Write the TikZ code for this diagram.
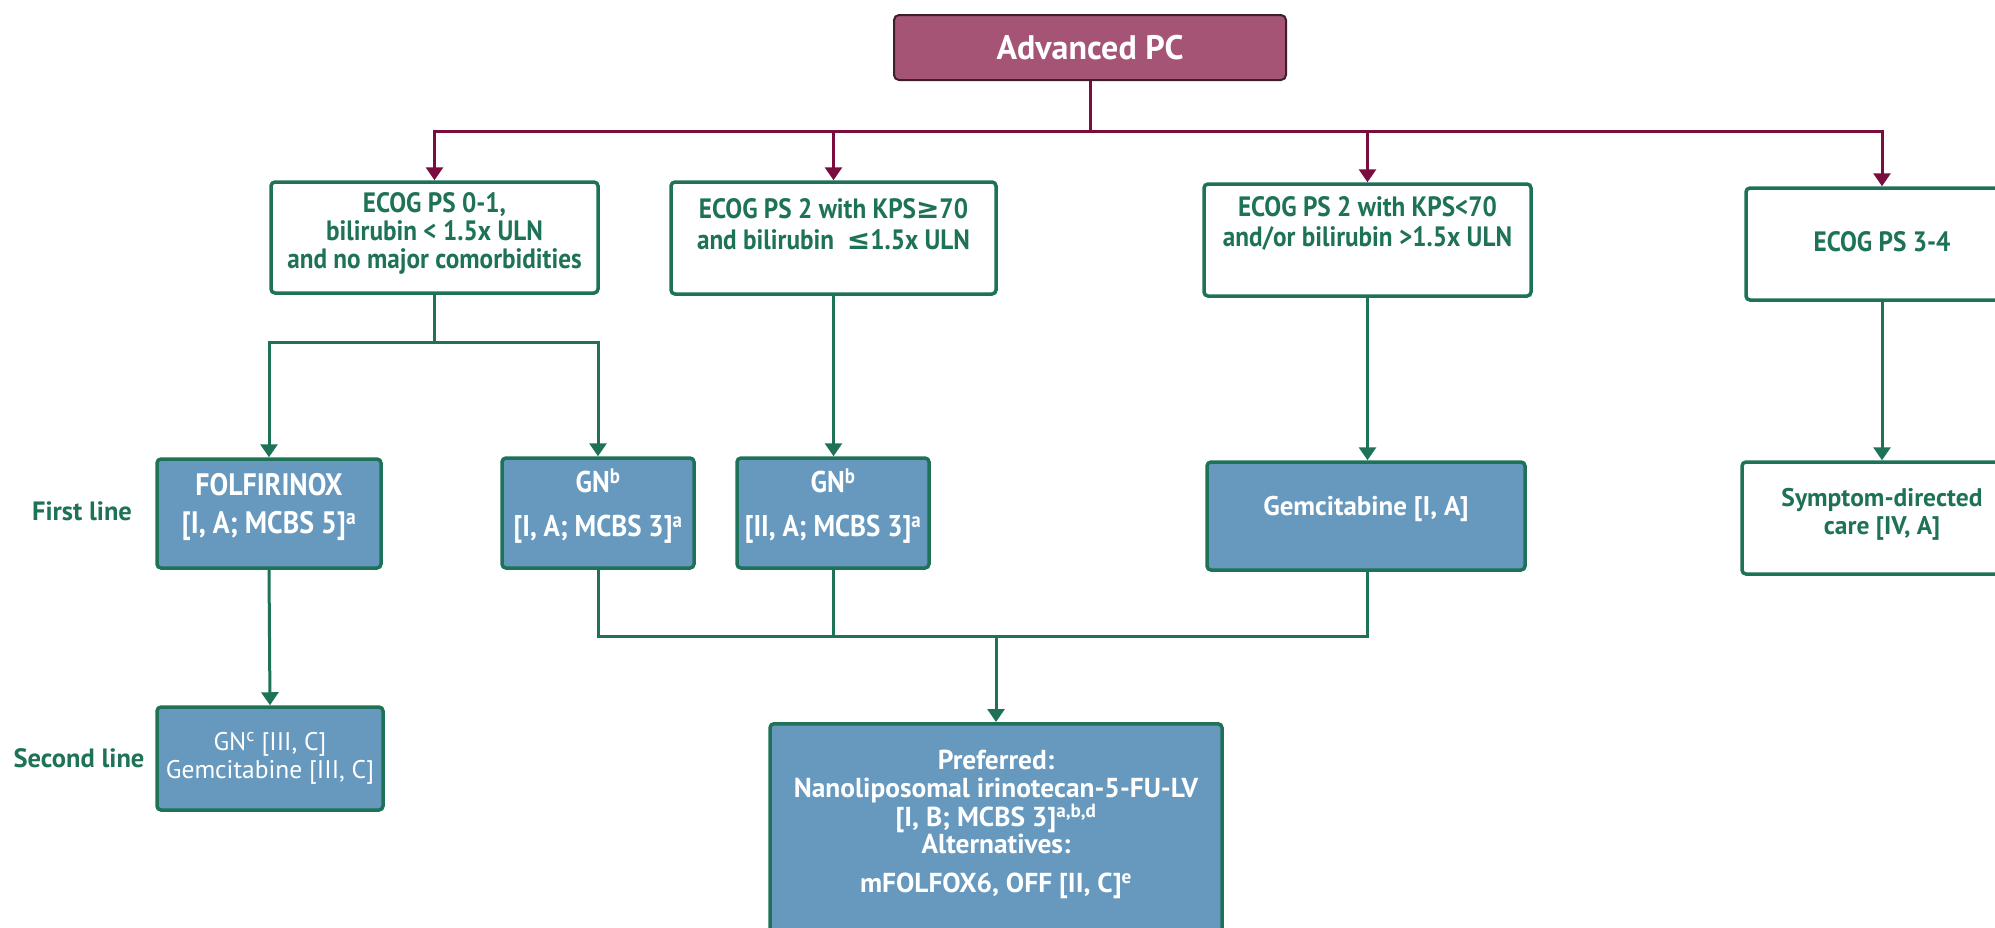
\documentclass[tikz,border=0pt]{standalone}
\usepackage{fontspec}
\setmainfont{PT Sans}
\newfontfamily\condf{PT Sans}[FakeStretch=0.9]
\newfontfamily\symf{DejaVu Sans}
\usetikzlibrary{arrows.meta}
\definecolor{mag}{RGB}{165,84,118}
\definecolor{magdark}{RGB}{60,30,45}
\definecolor{magline}{RGB}{122,12,62}
\definecolor{grn}{RGB}{30,114,88}
\definecolor{blu}{RGB}{103,153,191}
\begin{document}
\begin{tikzpicture}[x=1pt,y=-1pt,
  shapebox/.style={draw=grn, line width=3.5pt, rounded corners=4pt, inner sep=0pt},
  bluebox/.style={shapebox, fill=blu},
  txt/.style={inner sep=0pt, align=center, text=grn, font=\condf\bfseries\fontsize{28}{28}\selectfont},
  wtxt/.style={txt, text=white},
  mline/.style={draw=magline, line width=3pt},
  gline/.style={draw=grn, line width=3pt},
  marr/.style={mline, -{Triangle[width=17pt,length=13pt]}},
  garr/.style={gline, -{Triangle[width=17pt,length=13pt]}}]
\useasboundingbox (0,0) rectangle (1995,927);
\fill[white] (0,0) rectangle (1995,927);

% top
\node[draw=magdark, fill=mag, line width=2pt, rounded corners=5pt, minimum width=392pt, minimum height=65pt, inner sep=0pt,
      text=white, font=\bfseries\fontsize{34}{36}\selectfont] (A) at (1090,47.5) {Advanced PC};

% row 1
\node[shapebox, fill=white, minimum width=327pt, minimum height=111pt] (B1) at (434.5,237.5) {};
\node[shapebox, fill=white, minimum width=325pt, minimum height=112pt] (B2) at (833.5,238) {};
\node[shapebox, fill=white, minimum width=327pt, minimum height=112pt] (B3) at (1367.5,240) {};
\node[shapebox, fill=white, minimum width=272pt, minimum height=112pt] (B4) at (1882,244) {};
\node[txt] (B1t) at (434.5,233) {ECOG PS 0-1,\\bilirubin < 1.5x ULN\\and no major comorbidities};
\node[txt, font=\condf\bfseries\fontsize{28}{31}\selectfont] (B2t) at (833.5,224) {ECOG PS 2 with KPS{\symf ≥}70\\and bilirubin \ {\symf ≤}1.5x ULN};
\node[txt, font=\condf\bfseries\fontsize{28}{30}\selectfont] (B3t) at (1367.5,223) {ECOG PS 2 with KPS<70\\and/or bilirubin >1.5x ULN};
\node[txt] (B4t) at (1882,242) {ECOG PS 3-4};

% row 2
\node[bluebox, minimum width=224pt, minimum height=109pt] (F1) at (269,513.5) {};
\node[bluebox, minimum width=192pt, minimum height=110pt] (F2) at (598,513) {};
\node[bluebox, minimum width=192pt, minimum height=110pt] (F3) at (833,513) {};
\node[bluebox, minimum width=318pt, minimum height=108pt] (F4) at (1366,516) {};
\node[shapebox, fill=white, minimum width=280pt, minimum height=112pt] (F5) at (1882,518) {};
\node[wtxt, font=\condf\bfseries\fontsize{31}{38}\selectfont] (F1t) at (269,507) {FOLFIRINOX\\{}[I, A; MCBS 5]\textsuperscript{a}};
\node[wtxt, font=\condf\bfseries\fontsize{30}{44}\selectfont] (F2t) at (598,506) {GN\textsuperscript{b}\\{}[I, A; MCBS 3]\textsuperscript{a}};
\node[wtxt, font=\condf\bfseries\fontsize{30}{44}\selectfont] (F3t) at (833,506) {GN\textsuperscript{b}\\{}[II, A; MCBS 3]\textsuperscript{a}};
\node[wtxt, font=\bfseries\fontsize{27}{30}\selectfont] (F4t) at (1366,509) {Gemcitabine [I, A]};
\node[txt, font=\bfseries\fontsize{25.5}{28}\selectfont] (F5t) at (1882,514) {Symptom-directed\\care [IV, A]};

% second line
\node[bluebox, minimum width=226pt, minimum height=103pt] (S1) at (270,758.5) {};
\node[wtxt, font=\fontsize{25.5}{28}\selectfont] (S1t) at (270,758.5) {GN\textsuperscript{c} [III, C]\\Gemcitabine [III, C]};
\node[bluebox, minimum width=452pt, minimum height=260pt, anchor=north] (P) at (996,722) {};
\node[wtxt, font=\bfseries\fontsize{27.4}{27.5}\selectfont, anchor=north] (Pt) at (996,750) {Preferred:\\Nanoliposomal irinotecan-5-FU-LV\\{}[I, B; MCBS 3]\textsuperscript{a,b,d}\\Alternatives:\\[11pt]mFOLFOX6, OFF [II, C]\textsuperscript{e}};

% side labels
\node[txt, font=\bfseries\fontsize{26.5}{30}\selectfont] (L1) at (82,511) {First line};
\node[txt, font=\bfseries\fontsize{26.5}{30}\selectfont] (L2) at (79,758) {Second line};

% connectors
\coordinate (bar) at (1090,131);
\draw[mline] (A.south) -- (bar);
\draw[marr] (bar) -| (B1.north);
\draw[marr] (bar) -| (B2.north);
\draw[marr] (bar) -| (B3.north);
\draw[marr] (bar) -| (B4.north);

\coordinate (b1j) at (434.5,342);
\draw[gline] (B1.south) -- (b1j);
\draw[garr] (b1j) -| (F1.north);
\draw[garr] (b1j) -| (F2.north);
\draw[garr] (B2.south) -- (B2.south |- F3.north);
\draw[garr] (B3.south) -- (B3.south |- F4.north);
\draw[garr] (B4.south) -- (F5.north);
\draw[garr] (F1.south) -- (S1.north);

\coordinate (mj) at (996,636);
\draw[gline] (F2.south) |- (mj);
\draw[gline] (F3.south) |- (mj);
\draw[gline] (B3.south |- F4.south) |- (mj);
\draw[garr] (mj) -- (P.north);
\end{tikzpicture}
\end{document}
